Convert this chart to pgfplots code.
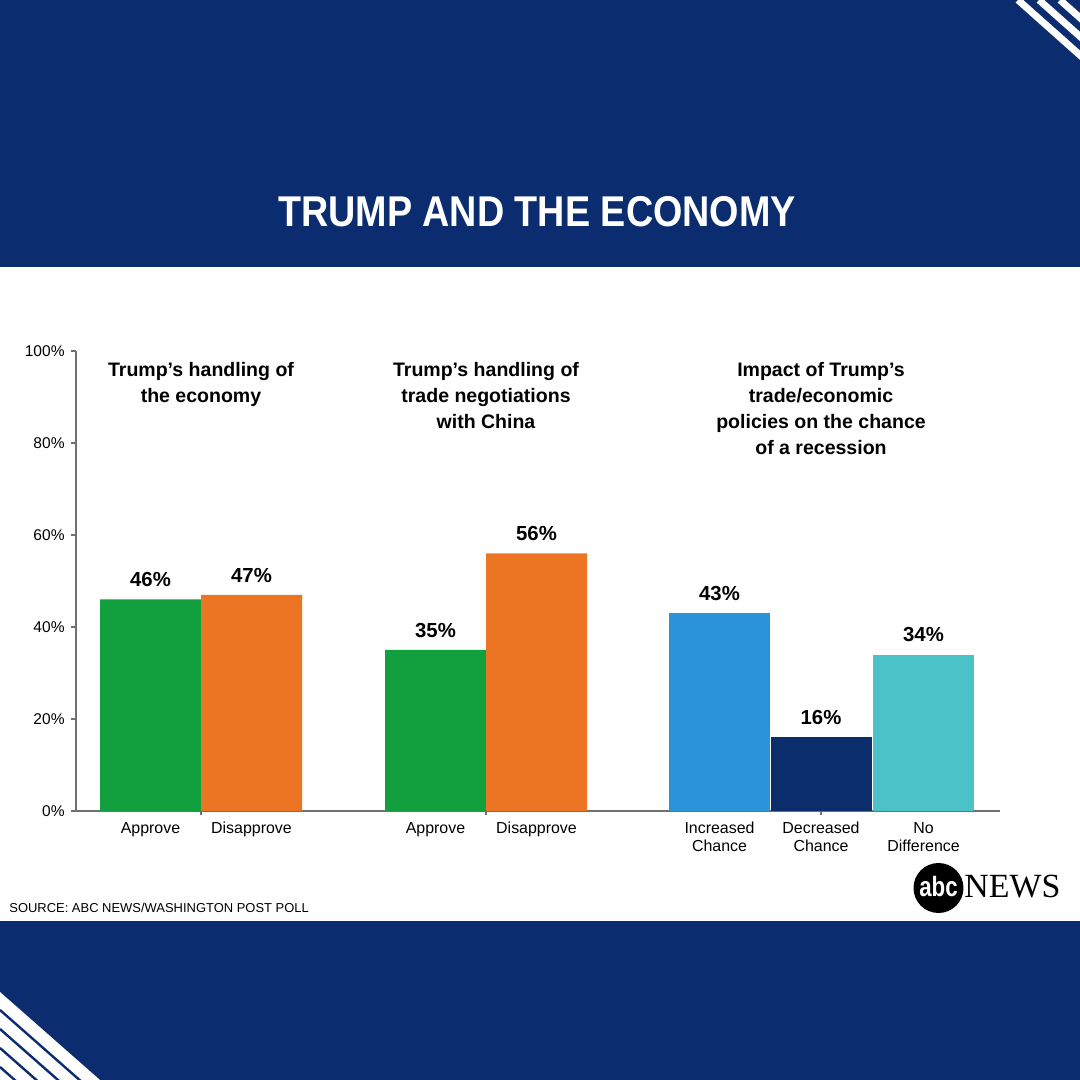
\documentclass[border=0pt]{standalone}
\usepackage{graphicx}
\usepackage{pgfplots}
\pgfplotsset{compat=1.18}
\usepackage{fontspec}
\setmainfont{Liberation Sans}
\newfontfamily\newsfont{Liberation Serif}
\definecolor{navy}{HTML}{0B2D6F}
\definecolor{axisgray}{HTML}{707070}
\definecolor{cgreen}{HTML}{11A03D}
\definecolor{corange}{HTML}{EC7524}
\definecolor{cblue}{HTML}{2B93D8}
\definecolor{cdark}{HTML}{0B2D6C}
\definecolor{cteal}{HTML}{4AC2C8}
\begin{document}
\begin{tikzpicture}
\begin{scope}[x=0.5bp,y=0.5bp]
\useasboundingbox (0,0) rectangle (1080,1080);
\fill[navy] (0,0) rectangle (1080,1080);
\fill[white] (0,159) rectangle (1080,813);
\begin{scope}
\clip (0,0) rectangle (1080,1080);
\foreach \s in {1018,1039,1060} \draw[white, line width=3.5bp] (\s,1080) -- ++(100,-89);
\fill[white] (0,88) -- (0,-20) -- (122.7,-20) -- cycle;
\foreach \yy in {70,51,32,13} \draw[navy, line width=1.2bp] (0,\yy) -- ++(150,-132);
\end{scope}
\node[anchor=base, text=white, font=\fontsize{21.6}{24}\selectfont\bfseries, inner sep=0] at (537,853) {\scalebox{0.877}[1]{TRUMP AND THE ECONOMY}};
\end{scope}
\begin{axis}[
  at={(38bp,134.5bp)}, anchor=south west, scale only axis,
  width=462bp, height=230bp,
  xmin=76, xmax=1000, ymin=0, ymax=100,
  axis x line*=bottom, axis y line*=left,
  axis line style={draw=axisgray, line width=0.75bp},
  ybar, bar width=101,
  ytick={0,20,40,60,80,100},
  yticklabel={\pgfmathprintnumber{\tick}\%},
  /pgf/number format/assume math mode=true,
  tick align=outside, major tick length=2.5bp,
  ytick style={draw=axisgray, line width=0.75bp},
  xtick={150.5,251.5,435.5,536.5,719.5,821,923.5},
  xticklabels={Approve,Disapprove,Approve,Disapprove,{Increased\\Chance},{Decreased\\Chance},{No\\Difference}},
  xtick style={draw=none},
  xticklabel style={font=\fontsize{8}{9}\selectfont, align=center, inner sep=0pt, yshift=-3bp},
  yticklabel style={font=\fontsize{7.8}{9}\selectfont, inner sep=0pt, xshift=-3bp},
  nodes near coords={\pgfmathprintnumber{\pgfplotspointmeta}\%},
  every node near coord/.append style={font=\fontsize{10.2}{12}\selectfont\bfseries, inner sep=0pt, yshift=6bp, text=black, anchor=south},
  clip=false,
]
\addplot[fill=cgreen, draw=none, bar shift=0pt] coordinates {(150.5,46) (435.5,35)};
\addplot[fill=corange, draw=none, bar shift=0pt] coordinates {(251.5,47) (536.5,56)};
\addplot[fill=cblue, draw=none, bar shift=0pt] coordinates {(719.5,43)};
\addplot[fill=cdark, draw=none, bar shift=0pt] coordinates {(821,16)};
\addplot[fill=cteal, draw=none, bar shift=0pt] coordinates {(923.5,34)};
\end{axis}
\begin{scope}[x=0.5bp,y=0.5bp]
\foreach \gx in {201,486,821} \draw[axisgray, line width=0.75bp] (\gx,269) -- ++(0,-4);
\node[anchor=north, align=center, font=\fontsize{9.8}{13}\selectfont\bfseries, inner sep=0] at (201,718) {Trump's handling of\\the economy};
\node[anchor=north, align=center, font=\fontsize{9.8}{13}\selectfont\bfseries, inner sep=0] at (486,718) {Trump's handling of\\trade negotiations\\with China};
\node[anchor=north, align=center, font=\fontsize{9.8}{13}\selectfont\bfseries, inner sep=0] at (821,718) {Impact of Trump's\\trade/economic\\policies on the chance\\of a recession};
\node[anchor=base west, inner sep=0, font=\fontsize{6.5}{7}\selectfont] at (9,167) {SOURCE: ABC NEWS/WASHINGTON POST POLL};
\fill[black] (938.5,192) circle (25);
\node[text=white, font=\fontsize{14}{15}\selectfont\bfseries, inner sep=0] at (938.5,193) {\scalebox{0.8}[1]{abc}};
\node[anchor=base west, font=\newsfont\fontsize{17}{18}\selectfont, inner sep=0] at (964,182) {NEWS};
\end{scope}
\end{tikzpicture}
\end{document}
